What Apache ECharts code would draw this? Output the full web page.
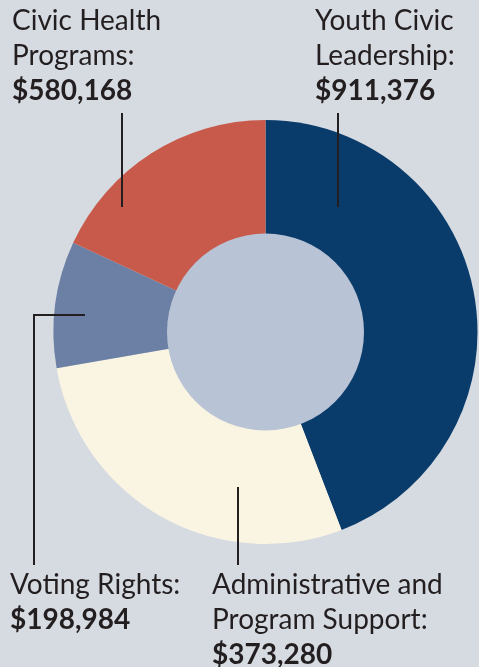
<!DOCTYPE html>
<html><head><meta charset="utf-8">
<script src="https://cdn.jsdelivr.net/npm/echarts@6/dist/echarts.min.js"></script>
<style>html,body{margin:0;padding:0;background:#d6dae1;}#c{width:479px;height:667px;}</style>
</head><body><div id="c"></div>
<script>
// Data
var categories = ["Youth Civic\nLeadership:", "Administrative and\nProgram Support:", "Voting Rights:", "Civic Health\nPrograms:"];
// Printed amounts, as labelled in the picture
var amounts = [911376, 373280, 198984, 580168];
// Slice sizes as drawn in the picture (shares measured from the angles)
var sliceValues = [911376, 580168, 198984, 373280];
var colors = ["#0a3c6b", "#faf5e3", "#6c80a5", "#c75a4a"];

// Label layout (positions only)
var labelPos = [
  {x: 315, y: 3, line: [[338, 207], [338, 160], [338, 113]]},
  {x: 212, y: 567, line: [[238, 487], [238, 530], [238, 565]]},
  {x: 10, y: 567, line: [[85, 315], [34, 315], [34, 565]]},
  {x: 12, y: 3, line: [[122, 207], [122, 160], [122, 113]]}
];

var chart = echarts.init(document.getElementById('c'), null, {renderer: 'canvas'});
function fmt(v){ return '$' + v.toLocaleString('en-US'); }
var sliceData = categories.map(function(c, i){
  return {name: c, value: sliceValues[i], itemStyle: {color: colors[i]}};
});
var labelData = categories.map(function(c, i){
  return {name: c, value: sliceValues[i], itemStyle: {color: 'rgba(0,0,0,0)'}};
});
var center = [265.5, 332];
chart.setOption({
  backgroundColor: '#d6dae1',
  animation: false,
  series: [{
    type: 'pie',
    center: center,
    radius: [0, 212],
    startAngle: 90,
    clockwise: true,
    data: sliceData,
    itemStyle: {borderWidth: 0},
    label: {show: false},
    labelLine: {show: false},
    silent: true,
    z: 2
  }, {
    type: 'pie',
    center: center,
    radius: [0, 98.5],
    silent: true,
    z: 3,
    label: {show: false},
    labelLine: {show: false},
    data: [{value: 1, name: '', itemStyle: {color: '#b9c3d6'}}]
  }, {
    type: 'pie',
    center: center,
    radius: [0, 212],
    startAngle: 90,
    clockwise: true,
    silent: true,
    z: 5,
    data: labelData,
    itemStyle: {borderWidth: 0},
    label: {
      show: true,
      position: 'outside',
      overflow: 'none',
      formatter: function(p){
        var lines = p.name.split('\n').map(function(l){ return '{n|' + l + '}'; });
        lines.push('{v|' + fmt(amounts[p.dataIndex]) + '}');
        return lines.join('\n');
      },
      rich: {
        n: {fontFamily: 'Lato', fontSize: 28, fontWeight: 'normal', color: '#231f20', lineHeight: 35},
        v: {fontFamily: 'Lato', fontSize: 28, fontWeight: 'bold', color: '#231f20', lineHeight: 35}
      }
    },
    labelLine: {show: true, lineStyle: {color: '#231f20', width: 2}},
    labelLayout: function(params){
      var p = labelPos[params.dataIndex];
      return {x: p.x, y: p.y, align: 'left', verticalAlign: 'top', labelLinePoints: p.line};
    }
  }]
});
</script></body></html>
